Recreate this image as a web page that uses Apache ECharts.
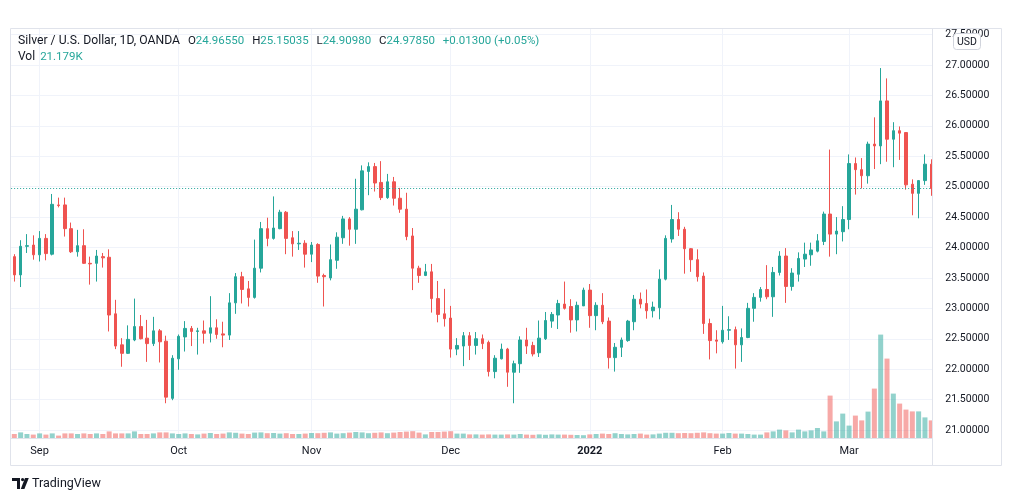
<!DOCTYPE html>
<html><head><meta charset="utf-8">
<script src="https://cdn.jsdelivr.net/npm/echarts@6/dist/echarts.min.js"></script>
<style>html,body{margin:0;padding:0;background:#fff}#c{width:1012px;height:501px}</style>
</head><body><div id="c"></div>
<script>
const dates = [
'2021-08-26','2021-08-27','2021-08-30','2021-08-31',
'2021-09-01','2021-09-02','2021-09-03','2021-09-06','2021-09-07','2021-09-08','2021-09-09','2021-09-10','2021-09-13','2021-09-14','2021-09-15','2021-09-16','2021-09-17','2021-09-20','2021-09-21','2021-09-22','2021-09-23','2021-09-24','2021-09-27','2021-09-28','2021-09-29','2021-09-30',
'2021-10-01','2021-10-04','2021-10-05','2021-10-06','2021-10-07','2021-10-08','2021-10-11','2021-10-12','2021-10-13','2021-10-14','2021-10-15','2021-10-18','2021-10-19','2021-10-20','2021-10-21','2021-10-22','2021-10-25','2021-10-26','2021-10-27','2021-10-28','2021-10-29',
'2021-11-01','2021-11-02','2021-11-03','2021-11-04','2021-11-05','2021-11-08','2021-11-09','2021-11-10','2021-11-11','2021-11-12','2021-11-15','2021-11-16','2021-11-17','2021-11-18','2021-11-19','2021-11-22','2021-11-23','2021-11-24','2021-11-25','2021-11-26','2021-11-29','2021-11-30',
'2021-12-01','2021-12-02','2021-12-03','2021-12-06','2021-12-07','2021-12-08','2021-12-09','2021-12-10','2021-12-13','2021-12-14','2021-12-15','2021-12-16','2021-12-17','2021-12-20','2021-12-21','2021-12-22','2021-12-23','2021-12-27','2021-12-28','2021-12-29','2021-12-30','2021-12-31',
'2022-01-03','2022-01-04','2022-01-05','2022-01-06','2022-01-07','2022-01-10','2022-01-11','2022-01-12','2022-01-13','2022-01-14','2022-01-17','2022-01-18','2022-01-19','2022-01-20','2022-01-21','2022-01-24','2022-01-25','2022-01-26','2022-01-27','2022-01-28','2022-01-31',
'2022-02-01','2022-02-02','2022-02-03','2022-02-04','2022-02-07','2022-02-08','2022-02-09','2022-02-10','2022-02-11','2022-02-14','2022-02-15','2022-02-16','2022-02-17','2022-02-18','2022-02-21','2022-02-22','2022-02-23','2022-02-24','2022-02-25','2022-02-28',
'2022-03-01','2022-03-02','2022-03-03','2022-03-04','2022-03-07','2022-03-08','2022-03-09','2022-03-10','2022-03-11','2022-03-14','2022-03-15','2022-03-16','2022-03-17','2022-03-18','2022-03-21'
];
const opens = [
23.85,23.55,24.02,24.04,23.88,24.15,23.89,24.70,24.70,24.31,
23.93,24.03,23.74,23.74,23.85,23.84,22.91,22.40,22.26,22.48,
22.70,22.51,22.42,22.63,22.46,21.52,22.17,22.53,22.67,22.62,
22.63,22.59,22.68,22.58,22.56,23.09,23.52,23.32,23.18,23.66,
24.31,24.15,24.31,24.58,24.16,24.06,24.07,23.89,24.05,23.54,
23.50,23.79,24.16,24.47,24.30,24.62,25.25,25.33,25.07,24.82,
25.08,24.81,24.63,24.19,23.66,23.54,23.60,23.16,22.91,22.84,
22.33,22.38,22.55,22.39,22.50,22.44,21.96,22.17,22.33,21.95,
22.09,22.48,22.39,22.27,22.50,22.79,22.89,23.07,23.03,22.81,
23.04,23.30,22.88,23.05,22.79,22.19,22.36,22.47,22.78,23.15,
23.08,22.96,23.01,23.48,24.14,24.46,24.30,23.98,23.80,23.53,
22.75,22.48,22.45,22.64,22.65,22.40,22.52,23.00,23.18,23.31,
23.19,23.59,23.86,23.36,23.56,23.81,23.88,23.94,24.10,24.55,
24.22,24.26,24.46,25.38,25.28,25.18,25.70,25.67,26.41,25.78,
25.92,25.89,25.04,24.89,25.10,25.37,24.9655
];
const highs = [
23.89,24.12,24.22,24.20,24.27,24.22,24.88,24.82,24.82,24.41,
24.29,24.30,23.85,23.96,23.91,23.97,23.14,22.51,22.72,23.16,
22.89,22.81,22.86,22.66,22.55,22.23,22.57,22.79,22.71,22.68,
22.80,23.20,22.82,22.78,23.25,23.58,23.60,23.45,24.13,24.42,
24.49,24.84,24.62,24.60,24.27,24.27,24.12,24.09,24.07,23.57,
24.05,24.25,24.52,24.50,25.13,25.35,25.40,25.39,25.42,25.21,
25.16,24.98,24.90,24.32,23.70,23.73,23.73,23.45,23.32,23.04,
22.51,22.61,22.61,22.61,22.57,22.47,22.23,22.42,22.35,22.14,
22.54,22.68,22.45,22.80,22.94,22.94,23.14,23.44,23.15,23.11,
23.34,23.40,23.10,23.25,22.85,22.43,22.52,22.81,23.22,23.26,
23.31,23.11,23.64,24.20,24.70,24.58,24.34,23.99,23.97,23.59,
22.83,22.64,23.04,22.87,22.70,22.67,23.09,23.25,23.35,23.71,
23.68,23.94,23.99,23.66,23.92,24.08,24.08,24.22,24.59,25.61,
24.50,24.68,25.53,25.48,25.47,25.74,26.14,26.95,26.78,26.06,
25.99,25.89,25.12,25.11,25.53,25.45,25.15035
];
const lows = [
23.44,23.35,23.91,23.80,23.77,23.79,23.87,24.66,24.18,23.91,
23.85,23.73,23.39,23.44,23.67,22.62,22.33,22.04,22.25,22.46,
22.49,22.12,22.38,22.11,21.44,21.49,21.99,22.29,22.38,22.24,
22.42,22.44,22.50,22.36,22.48,22.91,23.08,23.03,23.16,23.59,
24.02,24.13,24.30,23.89,23.85,23.96,23.67,23.76,23.42,23.03,
23.46,23.65,24.06,24.03,24.06,24.61,24.86,24.92,24.78,24.80,
24.69,24.57,24.12,23.30,23.42,23.53,22.93,22.77,22.70,22.19,
22.23,22.05,22.15,22.24,22.33,21.88,21.85,22.16,21.71,21.44,
21.94,22.25,22.21,22.20,22.48,22.68,22.66,22.98,22.60,22.62,
23.04,22.68,22.64,22.74,22.01,21.96,22.20,22.45,22.64,23.00,
22.83,22.85,22.82,23.46,24.08,24.19,23.57,23.60,23.44,22.58,
22.16,22.26,22.42,22.48,22.01,22.12,22.51,22.78,23.11,23.15,
22.86,23.54,23.09,23.29,23.44,23.68,23.70,23.92,24.04,23.85,
23.89,24.10,24.30,24.87,24.97,25.05,25.29,25.37,25.41,25.32,
25.44,24.95,24.53,24.48,25.03,24.85,24.9098
];
const closes = [
23.55,24.02,24.03,23.88,24.15,23.90,24.71,24.69,24.31,23.93,
24.03,23.74,23.73,23.86,23.83,22.89,22.38,22.26,22.49,22.70,
22.50,22.42,22.63,22.45,21.54,22.18,22.54,22.67,22.62,22.63,
22.59,22.68,22.57,22.56,23.09,23.52,23.31,23.18,23.66,24.31,
24.15,24.32,24.58,24.15,24.06,24.07,23.89,24.04,23.53,23.52,
23.80,24.17,24.47,24.30,24.63,25.26,25.33,25.06,24.82,25.08,
24.81,24.63,24.18,23.66,23.54,23.60,23.16,22.90,22.83,22.33,
22.39,22.55,22.39,22.50,22.42,21.96,22.18,22.33,21.95,22.09,
22.48,22.38,22.25,22.51,22.80,22.90,23.08,23.00,22.81,23.05,
23.30,22.88,23.05,22.78,22.19,22.36,22.48,22.79,23.15,23.07,
22.96,23.02,23.48,24.15,24.46,24.30,23.98,23.80,23.52,22.75,
22.47,22.46,22.64,22.65,22.40,22.52,23.00,23.18,23.31,23.19,
23.59,23.86,23.36,23.58,23.82,23.89,23.96,24.11,24.55,24.22,
24.27,24.46,25.38,25.28,25.18,25.70,25.67,26.41,25.78,25.92,
25.88,25.03,24.89,25.10,25.37,24.97,24.9785
];
// volume in thousands
const volumes = [
20,28,20,17,23,17,23,12,23,23,20,23,20,23,20,33,23,23,23,33,20,20,23,28,28,23,20,23,20,
18,22,25,20,22,28,26,22,20,27,28,24,25,22,24,20,20,22,25,24,26,28,22,24,27,30,28,24,
26,28,24,27,30,32,34,27,18,30,30,32,34,
22,22,18,18,17,18,17,17,18,17,20,17,16,18,16,18,17,17,16,15,14,
18,20,22,20,24,20,18,20,22,17,18,22,26,26,24,25,24,26,28,24,22,22,25,22,
22,20,17,17,28,33,42,38,28,42,33,38,50,33,212,83,122,62,112,88,132,247,517,397,222,172,142,133,133,103,88,
21.179
];
const monthStarts = ['2021-09-01','2021-10-01','2021-11-01','2021-12-01','2022-01-03','2022-02-01','2022-03-01'];
const monthLabels = ['Sep','Oct','Nov','Dec','2022','Feb','Mar'];
const lastPrice = 24.9785;
const header = {symbol:'Silver / U.S. Dollar, 1D, OANDA', o:'24.96550', h:'25.15035', l:'24.90980', c:'24.97850', chg:'+0.01300 (+0.05%)', vol:'21.179K'};

const UP = '#26a69a', DOWN = '#ef5350';
const UPV = 'rgba(38,166,154,0.5)', DOWNV = 'rgba(239,83,80,0.5)';
const TXT = '#131722', GRID = '#f0f3fa', FONT = 'Roboto';

const candleData = dates.map((d, i) => [opens[i], closes[i], lows[i], highs[i]]);
const volData = dates.map((d, i) => ({value: volumes[i], itemStyle: {color: closes[i] >= opens[i] ? UPV : DOWNV}}));
const isMonthStart = (idx, val) => monthStarts.indexOf(val) >= 0;
const hs = (c, s, padL) => ({color: c, fontSize: s, fontFamily: FONT, fontWeight: 'normal', padding: [0, 0, 0, padL || 0]});

const chart = echarts.init(document.getElementById('c'), null, {renderer: 'canvas'});
chart.setOption({
  animation: false,
  backgroundColor: '#ffffff',
  title: [
    {left: 18, top: 35, padding: 0,
     text: '{t|' + header.symbol + '}{k|O}{v|' + header.o + '}{k|H}{v|' + header.h + '}{k|L}{v|' + header.l + '}{k|C}{v|' + header.c + '}{p|' + header.chg + '}',
     textStyle: {fontWeight: 'normal', rich: {t: hs(TXT, 12.2), k: hs(TXT, 11.5, 8), v: hs(UP, 11.5), p: hs(UP, 11.5, 8)}}},
    {left: 18, top: 51, padding: 0,
     text: '{k|Vol}{v|' + header.vol + '}',
     textStyle: {fontWeight: 'normal', rich: {k: hs(TXT, 12), v: hs(UP, 11.5, 5)}}}
  ],
  grid: [
    {left: 11.14, right: 71.2, top: 34.6, bottom: 71},
    {left: 14.3, right: 74.4, top: 29, bottom: 63}
  ],
  xAxis: [
    {type: 'category', gridIndex: 0, data: dates, boundaryGap: true,
     axisLine: {show: false}, axisTick: {show: false}, axisLabel: {show: false}, splitLine: {show: false}},
    {type: 'category', gridIndex: 1, data: dates, boundaryGap: false,
     axisLine: {show: false}, axisTick: {show: false},
     axisLabel: {interval: isMonthStart, margin: 8, color: TXT, fontSize: 11, fontFamily: FONT,
       formatter: v => { const k = monthStarts.indexOf(v); if (k < 0) return ''; return monthLabels[k] === '2022' ? '{b|2022}' : monthLabels[k]; },
       rich: {b: {fontWeight: 'bold', fontSize: 11, fontFamily: FONT, color: TXT}}},
     splitLine: {show: true, interval: isMonthStart, lineStyle: {color: GRID, width: 1}}}
  ],
  yAxis: [
    {type: 'value', gridIndex: 0, position: 'right', min: 21, max: 27.5, interval: 0.5, scale: true,
     axisLine: {show: false}, axisTick: {show: false}, axisLabel: {show: false},
     splitLine: {show: true, lineStyle: {color: GRID, width: 1}}},
    {type: 'value', gridIndex: 0, position: 'right', min: 21, max: 27.5, interval: 0.5, scale: true, z: 100,
     axisLine: {show: false}, axisTick: {show: false}, splitLine: {show: false},
     axisLabel: {margin: 4.5, color: TXT, fontSize: 10.5, fontFamily: FONT, formatter: v => v.toFixed(5)}},
    {type: 'value', gridIndex: 1, min: 0, max: 2045, show: false, splitLine: {show: false}}
  ],
  series: [
    {type: 'bar', name: 'Vol', xAxisIndex: 1, yAxisIndex: 2, data: volData, barWidth: 5, clip: false, z: 1, silent: true},
    {type: 'candlestick', name: 'XAGUSD', xAxisIndex: 0, yAxisIndex: 0, data: candleData, barWidth: 3, z: 3,
     itemStyle: {color: UP, color0: DOWN, borderColor: UP, borderColor0: DOWN, borderWidth: 1},
     markLine: {silent: true, symbol: 'none', label: {show: false},
       lineStyle: {color: UP, type: [1, 2], width: 1}, data: [{yAxis: lastPrice}]}}
  ],
  graphic: [
    {type: 'rect', z: 50, silent: true, shape: {x: 933, y: 29, width: 68, height: 436}, style: {fill: '#ffffff'}},
    {type: 'rect', z: 60, silent: true, shape: {x: 10.5, y: 28.5, width: 991, height: 437}, style: {fill: 'none', stroke: '#e0e3eb', lineWidth: 1}},
    {type: 'line', z: 60, silent: true, shape: {x1: 932.5, y1: 28.5, x2: 932.5, y2: 465.5}, style: {stroke: '#e0e3eb', lineWidth: 1}},
    {type: 'line', z: 60, silent: true, shape: {x1: 10.5, y1: 438.5, x2: 932.5, y2: 438.5}, style: {stroke: '#e0e3eb', lineWidth: 1}},
    {type: 'rect', z: 150, silent: true, shape: {x: 953.5, y: 33.5, width: 27, height: 16, r: 3}, style: {fill: '#ffffff', stroke: '#d1d4dc', lineWidth: 1}},
    {type: 'text', z: 151, silent: true, x: 967, y: 42, style: {text: 'USD', fill: TXT, font: '10.5px Roboto', align: 'center', verticalAlign: 'middle', textAlign: 'center', textVerticalAlign: 'middle'}},
    {type: 'rect', z: 60, silent: true, shape: {x: 12, y: 478, width: 8, height: 3}, style: {fill: TXT}},
    {type: 'rect', z: 60, silent: true, shape: {x: 17, y: 478, width: 3, height: 11}, style: {fill: TXT}},
    {type: 'circle', z: 60, silent: true, shape: {cx: 22.6, cy: 479.6, r: 1.6}, style: {fill: TXT}},
    {type: 'polygon', z: 60, silent: true, shape: {points: [[25, 478], [28.8, 478], [24.4, 489], [20.8, 489]]}, style: {fill: TXT}},
    {type: 'text', z: 60, silent: true, x: 32, y: 483.5, style: {text: 'TradingView', fill: TXT, font: '12.5px Roboto', verticalAlign: 'middle', textVerticalAlign: 'middle'}}
  ]
});
</script></body></html>
